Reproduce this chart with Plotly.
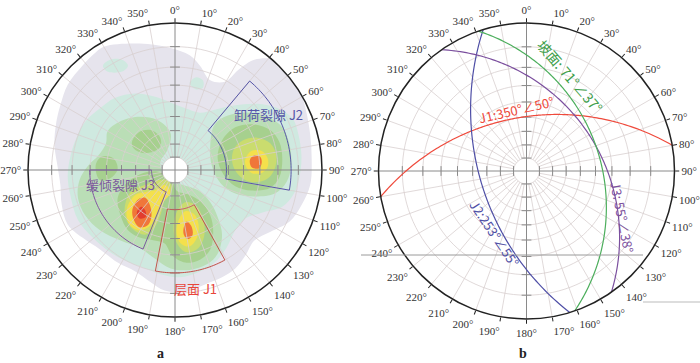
import numpy as np
import plotly.graph_objects as go

# ---- figure a: pole density (Wulff net, lower hemisphere) ----
# contour outlines in net units: x east, y north, primitive circle radius = 100
L1_outer = [(-48, 84), (-24, 86), (-3, 83), (10, 78), (17, 71), (24, 61), (34, 60), (43, 68),
            (54, 75), (68, 75), (78, 67), (85, 54), (89, 41), (92, 24), (93, 7), (92, -10),
            (86, -24), (78, -35), (65, -42), (54, -48), (48, -58), (41, -67), (32, -73),
            (20, -78), (7, -83), (-7, -82), (-17, -76), (-27, -69), (-39, -63), (-51, -54),
            (-63, -46), (-73, -37), (-77, -24), (-78, -10), (-80, 3), (-82, 17), (-81, 31),
            (-78, 44), (-73, 58), (-63, 71), (-54, 80)]
L2_main = [(-51, 42), (-41, 49), (-27, 52), (-14, 50), (-3, 46), (7, 42), (17, 39), (27, 41),
           (41, 44), (56, 45), (70, 42), (80, 35), (84, 24), (86, 10), (85, -3), (81, -16),
           (73, -25), (59, -29), (48, -33), (41, -41), (35, -53), (27, -63), (17, -69),
           (3, -73), (-10, -71), (-20, -67), (-31, -63), (-44, -56), (-56, -46), (-66, -34),
           (-71, -18), (-73, -4), (-71, 10), (-67, 22), (-61, 33)]
L2_nw = [(-49, 71), (-44, 75), (-36, 75), (-32, 71), (-36, 67), (-46, 67)]
L2_n = [(10, 59), (14, 63), (19, 61), (19, 56), (14, 55)]
L3_west = [(-41, 31), (-27, 36), (-12, 34), (-3, 25), (-5, 14), (-10, 5), (-5, -8), (5, -10),
           (16, -14), (24, -22), (29, -32), (32, -44), (29, -57), (22, -64), (10, -68),
           (-3, -67), (-14, -60), (-24, -53), (-37, -48), (-51, -41), (-61, -31), (-66, -19),
           (-65, -7), (-59, 3), (-52, 10), (-47, 18), (-46, 26)]
L3_j2 = [(27, 31), (36, 37), (50, 39), (63, 36), (73, 29), (78, 17), (79, 3), (76, -8),
         (68, -16), (54, -18), (41, -16), (31, -9), (25, 3), (24, 17)]
L4_j2 = [(32, 20), (41, 29), (54, 31), (65, 27), (71, 19), (73, 7), (71, -5), (65, -12),
         (52, -14), (41, -11), (33, -3), (29, 8)]
L4_nw = [(-29, 20), (-24, 26), (-16, 27), (-10, 22), (-10, 16), (-16, 12), (-24, 12), (-29, 16)]
L4_w = [(-54, 3), (-50, 9), (-42, 8), (-39, 1), (-43, -5), (-51, -7)]
L4_j3j1 = [(-34, -10), (-24, -3), (-12, -1), (-3, -5), (1, -14), (10, -17), (18, -22),
           (24, -31), (26, -42), (24, -54), (17, -61), (7, -63), (-2, -58), (-7, -50),
           (-14, -48), (-24, -46), (-32, -41), (-37, -31), (-39, -19)]
L5_j2 = [(40, 14), (46, 20), (56, 22), (65, 18), (69, 9), (67, -1), (61, -7), (51, -8),
         (43, -3), (39, 5)]
L5_j3 = [(-33, -20), (-29, -14), (-20, -10), (-12, -7), (-5, -7), (-2, -12), (-7, -20),
         (-10, -31), (-14, -39), (-20, -44), (-29, -40), (-34, -31)]
L5_j1 = [(1, -29), (7, -22), (14, -24), (19, -33), (20, -44), (16, -53), (8, -56), (2, -51),
         (-1, -41)]
L6_j2 = [(48, 8), (52, 13), (59, 13), (63, 8), (63, 2), (59, -2), (52, -2), (48, 3)]
L6_j3 = [(-32, -24), (-27, -17), (-20, -15), (-14, -14), (-7, -10), (-3, -15), (-8, -22),
         (-13, -31), (-17, -38), (-24, -41), (-31, -37), (-33, -30)]
L6_j1 = [(3, -33), (7, -28), (13, -30), (16, -37), (15, -46), (10, -52), (4, -50), (1, -42)]
L7_j2 = [(51, 7), (54, 10), (58, 9), (59, 5), (57, 1), (52, 2)]
L7_j3 = [(-29, -27), (-25, -20), (-20, -19), (-17, -24), (-16, -31), (-18, -37), (-24, -39),
         (-28, -34)]
L7_j1 = [(6, -39), (8, -35), (11, -38), (12, -44), (9, -47), (6, -44)]
L8_j3 = [(-26, -29), (-23, -25), (-20, -28), (-20, -32), (-24, -33)]

density_colors = ['#e6e4ed', '#cfe9e0', '#badeb6', '#a6d08e', '#cadc6e', '#f4e04c', '#f0763a', '#e23c2e']
density_blobs = [[L1_outer], [L2_main, L2_nw, L2_n], [L3_west, L3_j2],
                 [L4_j2, L4_nw, L4_w, L4_j3j1], [L5_j2, L5_j3, L5_j1],
                 [L6_j2, L6_j3, L6_j1], [L7_j2, L7_j3, L7_j1], [L8_j3]]

# joint-set windows: azimuth from/to, inner/outer radius (fraction of primitive)
box_names = ['卸荷裂隙 J2', '缓倾裂隙 J3', '层面 J1']
box_az = [(40, 100), (202, 270), (151, 191)]
box_r = [(0.35, 0.79), (0.16, 0.58), (0.27, 0.70)]
box_colors = ['#5656a8', '#7a5a9c', '#c2544c']

# ---- figure b: great circles ----
plane_labels = ['J1:350°∠50°', 'J2:253°∠55°', 'J3: 55°∠38°', '坡面: 71°∠37°']
dip_dirs = [350, 253, 55, 71]
dips = [50, 55, 38, 37]
plane_colors = ['#ef4a3c', '#4f4fa6', '#7b4f9e', '#4cae5c']

GRID = '#d8cfcf'
AXIS = '#8a8a8a'
dip_rings = np.tan(np.radians(np.arange(5, 45, 5)))  # 10..80 deg rings (Wulff)
r_hole = dip_rings[0]

fig = go.Figure()


def to_polar(pts):
    xy = np.array(pts + pts[:1], dtype=float) / 100.0
    r = np.hypot(xy[:, 0], xy[:, 1])
    th = np.degrees(np.arctan2(xy[:, 0], xy[:, 1])) % 360
    return r, th


def add_net(sp):
    # white hole in the middle
    a = np.linspace(0, 360, 73)
    fig.add_trace(go.Scatterpolar(r=np.full(73, r_hole), theta=a, mode='lines', fill='toself',
                                  fillcolor='white', line=dict(width=0), subplot=sp, hoverinfo='skip'))
    # rings
    rr, tt = [], []
    for rk in dip_rings:
        rr += list(np.full(121, rk)) + [None]
        tt += list(np.linspace(0, 360, 121)) + [None]
    # radial lines
    for az in range(0, 360, 10):
        if az % 90:
            rr += [r_hole, 1, None]
            tt += [az, az, None]
    fig.add_trace(go.Scatterpolar(r=rr, theta=tt, mode='lines', line=dict(color=GRID, width=0.8),
                                  subplot=sp, hoverinfo='skip'))
    # N-S / E-W axes with dip ticks
    fig.add_trace(go.Scatterpolar(r=[1, 1, None, 1, 1], theta=[0, 180, None, 90, 270], mode='lines',
                                  line=dict(color=AXIS, width=1), subplot=sp, hoverinfo='skip'))
    n = len(dip_rings)
    fig.add_trace(go.Scatterpolar(r=list(dip_rings) * 2, theta=[0] * n + [180] * n, mode='markers',
                                  marker=dict(symbol='line-ew', size=7, line=dict(color=AXIS, width=1)),
                                  subplot=sp, hoverinfo='skip'))
    fig.add_trace(go.Scatterpolar(r=list(dip_rings) * 2, theta=[90] * n + [270] * n, mode='markers',
                                  marker=dict(symbol='line-ns', size=7, line=dict(color=AXIS, width=1)),
                                  subplot=sp, hoverinfo='skip'))


# density fills
for col, blobs in zip(density_colors, density_blobs):
    for b in blobs:
        r, th = to_polar(b)
        fig.add_trace(go.Scatterpolar(r=r, theta=th, mode='lines', fill='toself', fillcolor=col,
                                      line=dict(width=0, shape='spline', smoothing=1),
                                      subplot='polar', hoverinfo='skip'))
add_net('polar')
for (a0, a1), (r0, r1), col in zip(box_az, box_r, box_colors):
    arc = np.linspace(a0, a1, 40)
    fig.add_trace(go.Scatterpolar(r=np.r_[np.full(40, r1), np.full(40, r0), r1],
                                  theta=np.r_[arc, arc[::-1], a0], mode='lines',
                                  line=dict(color=col, width=1), subplot='polar', hoverinfo='skip'))

add_net('polar2')
for dd, dp, col in zip(dip_dirs, dips, plane_colors):
    t = np.linspace(dd - 90, dd + 90, 181)
    plunge = np.degrees(np.arctan(np.tan(np.radians(dp)) * np.cos(np.radians(t - dd))))
    fig.add_trace(go.Scatterpolar(r=np.tan(np.radians((90 - plunge) / 2)), theta=t % 360, mode='lines',
                                  line=dict(color=col, width=1.2), subplot='polar2', hoverinfo='skip'))

ang = dict(rotation=90, direction='clockwise', tickmode='array', tickvals=list(range(0, 360, 10)),
           ticktext=[f'{v}°' for v in range(0, 360, 10)], ticks='outside', ticklen=4,
           tickcolor='#222', linecolor='#222', linewidth=1.5, showgrid=False,
           tickfont=dict(family='Liberation Serif', size=11, color='#333'))
rad = dict(range=[0, 1], visible=False, showgrid=False)

fig.update_layout(
    width=700, height=363, margin=dict(l=0, r=0, t=0, b=0),
    paper_bgcolor='white', showlegend=False,
    polar=dict(domain=dict(x=[28 / 700, 322 / 700], y=[46 / 363, 340 / 363]),
               bgcolor='white', angularaxis=ang, radialaxis=rad),
    polar2=dict(domain=dict(x=[378.5 / 700, 674.5 / 700], y=[44 / 363, 340 / 363]),
                bgcolor='white', angularaxis=ang, radialaxis=rad),
)

cjk = 'Noto Sans CJK SC'
notes = [
    (box_names[0], 268, 114, 0, box_colors[0], 13),
    (box_names[1], 120, 184, 0, box_colors[1], 13),
    (box_names[2], 195, 288, 0, '#e8463a', 13),
    (plane_labels[0], 516, 110, -13, plane_colors[0], 13),
    (plane_labels[1], 495, 233, 56, plane_colors[1], 13),
    (plane_labels[2], 623, 217, 79, plane_colors[2], 13),
    (plane_labels[3], 570, 76, 49, '#3fa04c', 14),
]
for txt, px, py, ang_, col, sz in notes:
    fig.add_annotation(text=txt, x=px / 700, y=1 - py / 363, xref='paper', yref='paper',
                       xanchor='center', yanchor='middle', showarrow=False, textangle=ang_,
                       font=dict(family=cjk, size=sz, color=col))
for txt, px in [('a', 160), ('b', 523)]:
    fig.add_annotation(text=f'<b>{txt}</b>', x=px / 700, y=0, xref='paper', yref='paper',
                       xanchor='center', yanchor='bottom', showarrow=False,
                       font=dict(family='Liberation Serif', size=14, color='#222'))

# stray rule lines present in the original panel b
fig.add_shape(type='line', xref='paper', yref='paper', x0=361 / 700, x1=643 / 700,
              y0=1 - 255 / 363, y1=1 - 255 / 363, line=dict(color='#9a9a9a', width=1))
fig.add_shape(type='line', xref='paper', yref='paper', x0=643 / 700, x1=1,
              y0=1 - 302 / 363, y1=1 - 302 / 363, line=dict(color='#bbbbbb', width=1))

# the default page body has an 8px margin; drop it so the 700x363 figure fills the window
fig.write_html('out.html', config={'displayModeBar': False},
               post_script="document.body.style.margin='0';")
